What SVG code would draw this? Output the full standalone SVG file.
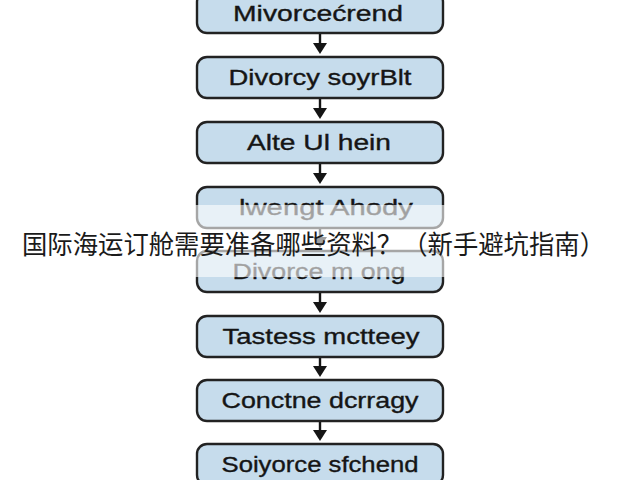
<svg xmlns="http://www.w3.org/2000/svg" width="640" height="480" viewBox="0 0 640 480">
<defs>
<style>
.box{fill:#c6dcec;stroke:#222222;stroke-width:2.4}
.lbl{font-family:"Liberation Sans",Arial,sans-serif;font-size:22px;fill:#151515;stroke:#151515;stroke-width:0.35;text-anchor:middle}
.con{stroke:#151515;stroke-width:2.4;fill:none}
.head{fill:#151515}
.title{font-family:"Noto Sans CJK SC","Noto Sans",sans-serif;font-size:26px;fill:#1a1a1a;text-anchor:middle}
</style>
</defs>
<rect width="640" height="480" fill="#ffffff"/>
<g id="connectors">
<line class="con" x1="320" y1="33" x2="320" y2="45"/><path class="head" d="M313,43 L327,43 L320,54 Z"/>
<line class="con" x1="320" y1="98" x2="320" y2="110"/><path class="head" d="M313,108 L327,108 L320,119 Z"/>
<line class="con" x1="320" y1="163" x2="320" y2="175"/><path class="head" d="M313,173 L327,173 L320,184 Z"/>
<line class="con" x1="320" y1="228" x2="320" y2="239"/><path class="head" d="M313,237 L327,237 L320,248 Z"/>
<line class="con" x1="320" y1="292" x2="320" y2="304"/><path class="head" d="M313,302 L327,302 L320,313 Z"/>
<line class="con" x1="320" y1="357" x2="320" y2="368"/><path class="head" d="M313,366 L327,366 L320,377 Z"/>
<line class="con" x1="320" y1="421" x2="320" y2="432"/><path class="head" d="M313,430 L327,430 L320,441 Z"/>
</g>
<g id="n1"><rect class="box" x="197" y="-8" width="246" height="41" rx="10"/><text class="lbl" x="318" y="21" textLength="170" lengthAdjust="spacingAndGlyphs">Mivorcećrend</text></g>
<g id="n2"><rect class="box" x="197" y="57" width="246" height="41" rx="10"/><text class="lbl" x="320" y="85" textLength="183" lengthAdjust="spacingAndGlyphs">Divorcy soyrBlt</text></g>
<g id="n3"><rect class="box" x="197" y="122" width="246" height="41" rx="10"/><text class="lbl" x="319" y="150" textLength="144" lengthAdjust="spacingAndGlyphs">Alte Ul hein</text></g>
<g id="n4"><rect class="box" x="197" y="187" width="246" height="41" rx="10"/><text class="lbl" x="326" y="215" textLength="174" lengthAdjust="spacingAndGlyphs">lwengt Ahody</text></g>
<g id="n5"><rect class="box" x="197" y="251" width="246" height="41" rx="10"/><text class="lbl" x="319" y="279" textLength="173" lengthAdjust="spacingAndGlyphs">Divorce m ong</text></g>
<g id="n6"><rect class="box" x="197" y="316" width="246" height="41" rx="10"/><text class="lbl" x="321" y="344" textLength="197" lengthAdjust="spacingAndGlyphs">Tastess mctteey</text></g>
<g id="n7"><rect class="box" x="197" y="380" width="246" height="41" rx="10"/><text class="lbl" x="320" y="408" textLength="197" lengthAdjust="spacingAndGlyphs">Conctne dcrragy</text></g>
<g id="n8"><rect class="box" x="197" y="444" width="246" height="41" rx="10"/><text class="lbl" x="320" y="472" textLength="197" lengthAdjust="spacingAndGlyphs">Soiyorce sfchend</text></g>
<g id="title">
<rect x="0" y="205" width="640" height="72" fill="#ffffff" fill-opacity="0.6"/>
<text class="title" x="313.5" y="254" textLength="583" lengthAdjust="spacingAndGlyphs">国际海运订舱需要准备哪些资料？（新手避坑指南）</text>
</g>
</svg>
